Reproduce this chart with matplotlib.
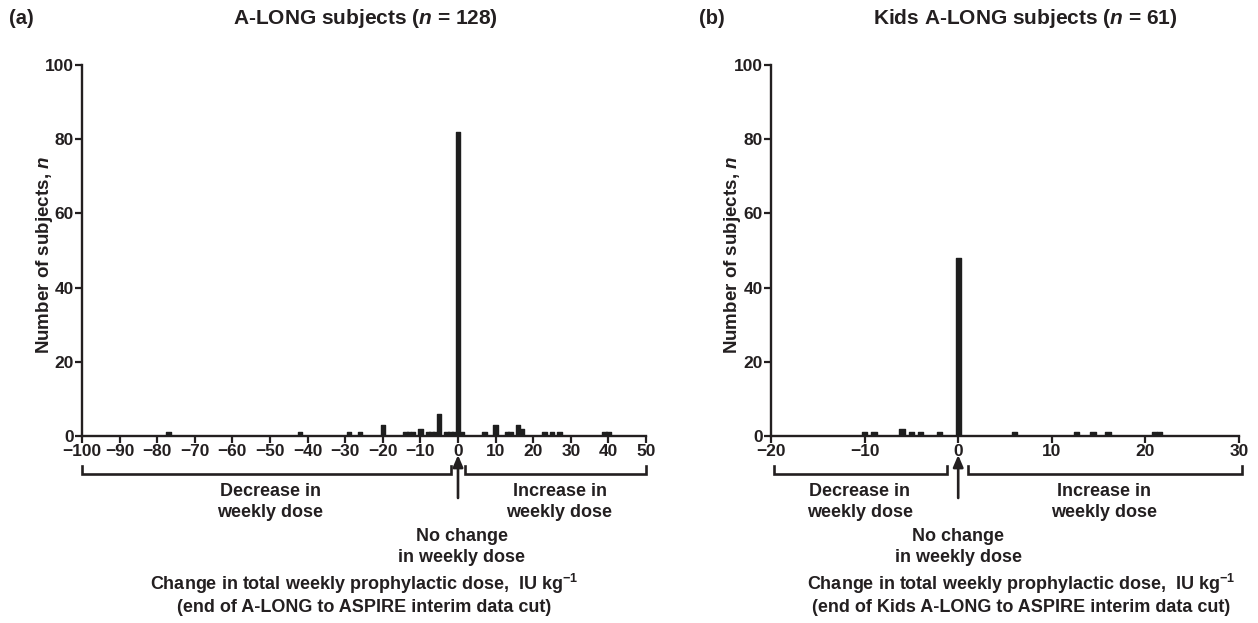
import matplotlib
matplotlib.use("Agg")
import matplotlib.pyplot as plt
import matplotlib.transforms as mtransforms

# ---------------- data ----------------
a_change = [-77, -42, -29, -26, -20, -14, -13, -12, -10, -8, -7, -6, -5, -3, -2, -1,
            0, 1, 7, 10, 13, 14, 16, 17, 23, 25, 27, 39, 40]
a_count = [1, 1, 1, 1, 3, 1, 1, 1, 2, 1, 1, 1, 6, 1, 1, 1,
           82, 1, 1, 3, 1, 1, 3, 2, 1, 1, 1, 1, 1]

b_change = [-10, -9, -6, -5, -4, -2, 0, 6, 12.6, 14.4, 16, 21, 21.5]
b_count = [1, 1, 2, 1, 1, 1, 48, 1, 1, 1, 1, 1, 1]

a_xticks = list(range(-100, 51, 10))
b_xticks = [-20, -10, 0, 10, 20, 30]
yticks = [0, 20, 40, 60, 80, 100]

a_title = "A-LONG subjects ($n$ = 128)"
b_title = "Kids A-LONG subjects ($n$ = 61)"
a_xlabel = "Change in total weekly prophylactic dose,  IU kg$^{-1}$\n(end of A-LONG to ASPIRE interim data cut)"
b_xlabel = "Change in total weekly prophylactic dose,  IU kg$^{-1}$\n(end of Kids A-LONG to ASPIRE interim data cut)"
ylabel = "Number of subjects, $n$"

# ---------------- style ----------------
plt.rcParams['font.family'] = ['Liberation Sans', 'DejaVu Sans']
plt.rcParams['font.weight'] = 'bold'
plt.rcParams['mathtext.fontset'] = 'custom'
plt.rcParams['mathtext.rm'] = 'Liberation Sans:bold'
plt.rcParams['mathtext.bf'] = 'Liberation Sans:bold'
plt.rcParams['mathtext.it'] = 'Liberation Sans:bold:italic'
plt.rcParams['mathtext.default'] = 'it'

INK = '#231f20'
BAR = '#1e1e1e'
W, H = 1258, 623

fig = plt.figure(figsize=(W / 100, H / 100), dpi=100)


def fy(py):
    return 1 - py / H


def panel(rect, xs, ys, width, xlim, xticks, title, xlabel, letter, letter_x, title_x,
          dec, inc, nochange_x, dec_x, inc_x, ylabel_x, xlabel_x):
    ax = fig.add_axes(rect)
    ax.bar(xs, ys, width=width, color=BAR, edgecolor=BAR, linewidth=1.0,
           joinstyle='round', zorder=3)
    ax.set_xlim(*xlim)
    ax.set_ylim(0, 100)
    ax.set_xticks(xticks)
    ax.set_yticks(yticks)
    for s in ['top', 'right']:
        ax.spines[s].set_visible(False)
    for s in ['left', 'bottom']:
        ax.spines[s].set_linewidth(1.7)
        ax.spines[s].set_color(INK)
    ax.tick_params(axis='both', direction='out', length=5, width=1.6, colors=INK,
                   labelsize=12.5, pad=1)
    for lab in ax.get_xticklabels() + ax.get_yticklabels():
        lab.set_fontweight('bold')

    tr = mtransforms.blended_transform_factory(ax.transData, fig.transFigure)
    # brackets
    yl, ye = fy(474), fy(466)
    for (x0, x1) in [dec, inc]:
        ax.plot([x0, x0, x1, x1], [ye, yl, yl, ye], color=INK, lw=1.9,
                transform=tr, clip_on=False, solid_joinstyle='miter')
    # arrow
    ax.annotate('', xy=(0, fy(455)), xytext=(0, fy(498)), xycoords=tr, textcoords=tr,
                arrowprops=dict(arrowstyle='-|>,head_length=0.7,head_width=0.3',
                                color=INK, lw=1.9, shrinkA=0, shrinkB=0))
    fs = 13
    ax.text(dec_x, fy(502), "Decrease in\nweekly dose", transform=tr, ha='center',
            va='center', fontsize=fs, color=INK, linespacing=1.25)
    ax.text(inc_x, fy(502), "Increase in\nweekly dose", transform=tr, ha='center',
            va='center', fontsize=fs, color=INK, linespacing=1.25)
    ax.text(nochange_x, fy(547), "No change\nin weekly dose", transform=tr, ha='center',
            va='center', fontsize=fs, color=INK, linespacing=1.25)
    fig.text(xlabel_x / W, fy(594), xlabel, ha='center', va='center', fontsize=13,
             color=INK, linespacing=1.2)
    fig.text(ylabel_x / W, fy(255), ylabel, rotation=90, ha='center', va='center',
             fontsize=13.5, color=INK)
    fig.text(letter_x / W, fy(18), letter, ha='left', va='center', fontsize=14.5, color=INK)
    fig.text(title_x / W, fy(18), title, ha='center', va='center', fontsize=15, color=INK)
    return ax


panel([82 / W, fy(436), 564 / W, (436 - 65) / H], a_change, a_count, 1.2, (-100, 50),
      a_xticks, a_title, a_xlabel, "(a)", 9, 365,
      dec=(-100, -1.9), inc=(1.9, 50), nochange_x=1, dec_x=-50, inc_x=27,
      ylabel_x=45, xlabel_x=364)

panel([771 / W, fy(436), 468 / W, (436 - 65) / H], b_change, b_count, 0.55, (-20, 30),
      b_xticks, b_title, b_xlabel, "(b)", 699, 1025,
      dec=(-19.7, -1.2), inc=(1.1, 30.3), nochange_x=0, dec_x=-10.5, inc_x=15.6,
      ylabel_x=733, xlabel_x=1021)

fig.savefig('out.png', dpi=100)
